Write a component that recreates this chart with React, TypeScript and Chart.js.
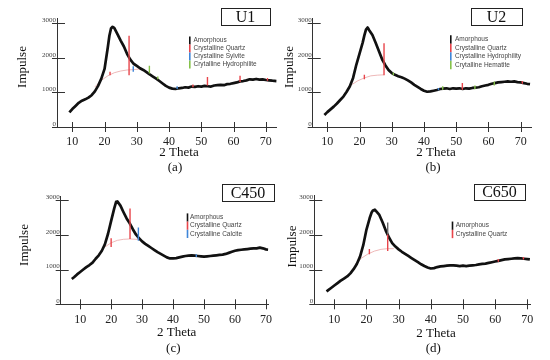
import React, { useEffect, useRef } from 'react';
import { Chart, registerables } from 'chart.js';

Chart.register(...registerables);

// ---------- shared axis ticks ----------
const xTicks = [10, 20, 30, 40, 50, 60, 70];
const yTicks = [0, 1000, 2000, 3000];

// ---------- U1 ----------
const u1Theta = [9.1, 10, 11, 12, 13, 14, 15, 16, 17, 18, 19, 20, 21, 21.5, 22, 22.5, 23, 24, 25, 26, 27, 28, 29, 30, 31, 32, 33, 34, 35, 36, 37, 38, 39, 40, 41, 42, 43, 44, 45, 46, 47, 48, 49, 50, 51, 52, 53, 54, 55, 56, 57, 58, 59, 60, 61, 62, 63, 64, 65, 66, 67, 68, 69, 70, 71, 72, 73.3];
const u1Impulse = [420, 520, 610, 700, 760, 800, 850, 920, 1030, 1190, 1400, 1680, 2300, 2640, 2850, 2900, 2870, 2690, 2500, 2330, 2110, 1950, 1830, 1770, 1700, 1650, 1590, 1520, 1460, 1400, 1330, 1260, 1190, 1140, 1110, 1100, 1120, 1130, 1150, 1140, 1170, 1160, 1180, 1170, 1190, 1180, 1170, 1200, 1210, 1220, 1210, 1240, 1250, 1270, 1290, 1320, 1330, 1350, 1380, 1370, 1390, 1370, 1380, 1360, 1350, 1340, 1330];
const u1ArcTheta = [17, 19, 21, 23, 25, 27, 29, 31];
const u1ArcImpulse = [1160, 1350, 1480, 1570, 1620, 1650, 1660, 1680];
const u1QuartzTheta = [21.7, 27.6, 47.4, 51.9, 62.0, 70.5];
const u1QuartzLow = [1500, 1500, 1150, 1200, 1300, 1340];
const u1QuartzHigh = [1600, 2640, 1230, 1450, 1480, 1420];
const u1SylviteTheta = [28.9, 42.5];
const u1SylviteLow = [1600, 1100];
const u1SylviteHigh = [1760, 1180];
const u1HydroTheta = [33.9, 36.5];
const u1HydroLow = [1550, 1380];
const u1HydroHigh = [1770, 1460];
const u1Phases = ['Amorphous', 'Crystalline Quartz', 'Crystalline Sylvite', 'Crytalline Hydrophilite'];

// ---------- U2 ----------
const u2Theta = [9.1, 10, 11, 12, 13, 14, 15, 16, 17, 18, 19, 20, 21, 21.5, 22, 22.5, 23, 24, 25, 26, 27, 28, 29, 30, 31, 32, 33, 34, 35, 36, 37, 38, 39, 40, 41, 42, 43, 44, 45, 46, 47, 48, 49, 50, 51, 52, 53, 54, 55, 56, 57, 58, 59, 60, 61, 62, 63, 64, 65, 66, 67, 68, 69, 70, 71, 72, 72.9];
const u2Impulse = [350, 430, 510, 590, 680, 780, 880, 1020, 1180, 1420, 1800, 2120, 2450, 2650, 2820, 2880, 2800, 2660, 2440, 2200, 1960, 1790, 1650, 1560, 1510, 1470, 1440, 1400, 1350, 1290, 1220, 1160, 1100, 1050, 1020, 1030, 1050, 1070, 1100, 1110, 1120, 1100, 1120, 1110, 1120, 1100, 1120, 1110, 1130, 1140, 1150, 1180, 1200, 1220, 1250, 1270, 1290, 1300, 1310, 1320, 1310, 1320, 1300, 1290, 1270, 1250, 1240];
const u2ArcTheta = [17.5, 19.5, 21.5, 23.5, 25.5, 27.5];
const u2ArcImpulse = [1220, 1340, 1420, 1480, 1500, 1510];
const u2QuartzTheta = [21.5, 27.6, 51.9, 70.5];
const u2QuartzLow = [1380, 1500, 1080, 1250];
const u2QuartzHigh = [1510, 2420, 1270, 1330];
const u2HydroTheta = [44.5];
const u2HydroLow = [1060];
const u2HydroHigh = [1130];
const u2HematiteTheta = [30.5, 45.8, 55.8, 61.8];
const u2HematiteLow = [1500, 1080, 1090, 1200];
const u2HematiteHigh = [1580, 1180, 1200, 1320];
const u2Phases = ['Amorphous', 'Crystalline Quartz', 'Crystalline Hydrophility', 'Crytalline Hematite'];

// ---------- C450 ----------
const c450Theta = [7.3, 8, 9, 10, 11, 12, 13, 14, 15, 16, 17, 18, 19, 20, 21, 21.6, 22, 23, 24, 25, 26, 27, 28, 29, 30, 31, 32, 33, 34, 35, 36, 37, 38, 39, 40, 41, 42, 43, 44, 45, 46, 47, 48, 49, 50, 51, 52, 53, 54, 55, 56, 57, 58, 59, 60, 61, 62, 63, 64, 65, 66, 67, 68, 69, 70, 70.7];
const c450Impulse = [730, 780, 860, 930, 1000, 1070, 1130, 1200, 1310, 1410, 1540, 1730, 2030, 2400, 2760, 2950, 2960, 2840, 2650, 2470, 2330, 2160, 2010, 1900, 1810, 1740, 1680, 1620, 1560, 1500, 1450, 1400, 1350, 1320, 1320, 1330, 1350, 1370, 1390, 1400, 1410, 1400, 1390, 1380, 1370, 1380, 1390, 1400, 1410, 1420, 1430, 1450, 1480, 1510, 1540, 1560, 1570, 1580, 1590, 1600, 1610, 1610, 1630, 1610, 1580, 1570];
const c450ArcTheta = [18, 20, 22, 24, 26, 28, 29.5];
const c450ArcImpulse = [1650, 1770, 1840, 1870, 1880, 1870, 1860];
const c450QuartzTheta = [20.0, 26.1];
const c450QuartzLow = [1650, 1880];
const c450QuartzHigh = [1900, 2760];
const c450CalciteTheta = [28.8, 47.5];
const c450CalciteLow = [1830, 1360];
const c450CalciteHigh = [2210, 1440];
const c450Phases = ['Amorphous', 'Crystalline Quartz', 'Crystalline Calcite'];

// ---------- C650 ----------
const c650Theta = [7.6, 8, 9, 10, 11, 12, 13, 14, 15, 16, 17, 18, 19, 20, 21, 21.6, 22, 22.6, 23, 24, 25, 26, 27, 28, 29, 30, 31, 32, 33, 34, 35, 36, 37, 38, 39, 40, 41, 42, 43, 44, 45, 46, 47, 48, 49, 50, 51, 52, 53, 54, 55, 56, 57, 58, 59, 60, 61, 62, 63, 64, 65, 66, 67, 68, 69, 70, 70.8];
const c650Impulse = [370, 400, 470, 540, 610, 680, 740, 800, 890, 1010, 1160, 1370, 1700, 2150, 2480, 2640, 2700, 2720, 2680, 2570, 2360, 2120, 1920, 1760, 1660, 1580, 1510, 1450, 1390, 1330, 1270, 1210, 1150, 1100, 1060, 1030, 1040, 1070, 1090, 1100, 1110, 1120, 1120, 1110, 1100, 1110, 1100, 1110, 1120, 1130, 1150, 1160, 1170, 1190, 1210, 1230, 1250, 1270, 1290, 1300, 1310, 1320, 1330, 1320, 1310, 1300, 1290];
const c650ArcTheta = [16.5, 18.5, 20.5, 22.5, 24.5, 26.5, 28.5];
const c650ArcImpulse = [1150, 1330, 1450, 1530, 1580, 1600, 1600];
const c650QuartzTheta = [20.9, 26.6, 61.0, 68.8];
const c650QuartzLow = [1440, 1530, 1220, 1290];
const c650QuartzHigh = [1590, 2010, 1300, 1360];
const c650AmorphTheta = [26.6];
const c650AmorphLow = [2010];
const c650AmorphHigh = [2350];
const c650Phases = ['Amorphous', 'Crystalline Quartz'];

// ---------- styling ----------
const BLACK = '#111111';
const RED = '#e8454b';
const BLUE = '#3f86d8';
const GREEN = '#86c24a';
const GRAY = '#666666';
const ARC = 'rgba(232,160,160,0.75)';
const SERIF = "'Liberation Serif', 'Times New Roman', serif";
const SANS = "'Liberation Sans', Arial, sans-serif";

function series(theta: number[], impulse: number[]) {
  return theta.map((t, i) => ({ x: t, y: impulse[i] }));
}
function sticks(theta: number[], low: number[], high: number[]) {
  const pts: any[] = [];
  theta.forEach((t, i) => {
    pts.push({ x: t, y: low[i] }, { x: t, y: high[i] }, { x: t, y: null });
  });
  return pts;
}

const decorPlugin = {
  id: 'decor',
  afterDraw(chart: any, _args: any, o: any) {
    const ctx = chart.ctx;
    const xs = chart.scales.x;
    const ys = chart.scales.y;
    ctx.save();
    ctx.strokeStyle = '#333';
    ctx.lineWidth = 1;
    ctx.beginPath();
    for (const v of xTicks) {
      const px = Math.round(xs.getPixelForValue(v)) + 0.5;
      ctx.moveTo(px, ys.bottom - 5);
      ctx.lineTo(px, ys.bottom + 5);
    }
    for (const v of yTicks) {
      const py = Math.round(ys.getPixelForValue(v)) + 0.5;
      ctx.moveTo(xs.left - 5, py);
      ctx.lineTo(xs.left + 8, py);
    }
    ctx.stroke();

    // sample label box
    const b = o.box;
    ctx.strokeStyle = '#222';
    ctx.strokeRect(Math.round(b.x) + 0.5, Math.round(b.y) + 0.5, b.w, b.h);
    ctx.fillStyle = '#111';
    ctx.font = `16px ${SERIF}`;
    ctx.textAlign = 'center';
    ctx.textBaseline = 'middle';
    ctx.fillText(b.text, b.x + b.w / 2, b.y + b.h / 2 + 1);

    // phase legend
    const l = o.legend;
    ctx.font = `6.5px ${SANS}`;
    ctx.textAlign = 'left';
    ctx.textBaseline = 'middle';
    l.names.forEach((name: string, i: number) => {
      const cy = l.y0 + i * l.dy;
      ctx.fillStyle = l.colors[i];
      ctx.fillRect(l.barX, cy - l.dy / 2, 1.6, l.dy);
      ctx.fillStyle = '#444';
      ctx.fillText(name, l.textX, cy);
    });

    // axis titles and caption
    ctx.fillStyle = '#111';
    ctx.font = `13px ${SERIF}`;
    ctx.textAlign = 'center';
    ctx.fillText('2 Theta', o.theta.x, o.theta.y);
    ctx.fillText(o.caption.text, o.caption.x, o.caption.y);
    ctx.save();
    ctx.translate(o.impulse.x, o.impulse.y);
    ctx.rotate(-Math.PI / 2);
    ctx.fillText('Impulse', 0, 0);
    ctx.restore();
    ctx.restore();
  },
};

function buildConfig(p: any) {
  const datasets: any[] = [
    { label: 'baseline', data: series(p.arcTheta, p.arcImpulse), borderColor: ARC, borderWidth: 1, order: 3 },
    { label: 'Amorphous', data: series(p.theta, p.impulse), borderColor: BLACK, borderWidth: 2.7, order: 2 },
    ...p.sticks.map((s: any) => ({ label: s.label, data: sticks(s.theta, s.low, s.high), borderColor: s.color, borderWidth: 1.4, order: 1 })),
  ];
  datasets.forEach((d) => {
    d.type = 'line';
    d.pointRadius = 0;
    d.tension = 0;
    d.spanGaps = false;
    d.fill = false;
    d.borderJoinStyle = 'round';
  });
  return {
    type: 'line',
    data: { datasets },
    options: {
      responsive: false,
      animation: false,
      events: [],
      layout: { padding: p.pad },
      plugins: {
        legend: { display: false },
        tooltip: { enabled: false },
        title: { display: false },
        decor: p.decor,
      },
      scales: {
        x: {
          type: 'linear',
          min: p.xMin,
          max: p.xMax,
          offset: false,
          grid: { display: false, drawTicks: false },
          border: { display: true, color: '#333', width: 1 },
          afterBuildTicks: (s: any) => { s.ticks = xTicks.map((v) => ({ value: v })); },
          afterFit: (s: any) => { s.height = 20; },
          ticks: { autoSkip: false, maxRotation: 0, padding: 8, color: '#222', font: { family: SERIF, size: 12 }, callback: (v: any) => String(v) },
        },
        y: {
          type: 'linear',
          min: 0,
          max: p.yMax,
          grid: { display: false, drawTicks: false },
          border: { display: true, color: '#333', width: 1 },
          afterBuildTicks: (s: any) => { s.ticks = yTicks.map((v) => ({ value: v })); },
          afterFit: (s: any) => { s.width = p.yAxisW; },
          ticks: { padding: 1, labelOffset: -3, color: '#444', font: { family: SERIF, size: 7 }, callback: (v: any) => String(v) },
        },
      },
    },
    plugins: [decorPlugin],
  };
}

const panels: any[] = [
  {
    key: 'a', left: 0, top: 0, w: 280, h: 180,
    pad: { left: 0, right: 3, top: 18, bottom: 33 }, yAxisW: 57, xMin: 5.26, xMax: 73.4, yMax: 3154,
    theta: u1Theta, impulse: u1Impulse, arcTheta: u1ArcTheta, arcImpulse: u1ArcImpulse,
    sticks: [
      { label: 'Quartz', theta: u1QuartzTheta, low: u1QuartzLow, high: u1QuartzHigh, color: RED },
      { label: 'Sylvite', theta: u1SylviteTheta, low: u1SylviteLow, high: u1SylviteHigh, color: BLUE },
      { label: 'Hydrophilite', theta: u1HydroTheta, low: u1HydroLow, high: u1HydroHigh, color: GREEN },
    ],
    decor: {
      box: { x: 221, y: 8, w: 49, h: 17, text: 'U1' },
      legend: { barX: 189, textX: 193.5, y0: 40.5, dy: 8, names: u1Phases, colors: [BLACK, RED, BLUE, GREEN] },
      impulse: { x: 23, y: 67 }, theta: { x: 179, y: 153 }, caption: { x: 175, y: 168, text: '(a)' },
    },
  },
  {
    key: 'b', left: 280, top: 0, w: 270, h: 180,
    pad: { left: 0, right: 19, top: 18, bottom: 33 }, yAxisW: 32.7, xMin: 5.47, xMax: 73.2, yMax: 3154,
    theta: u2Theta, impulse: u2Impulse, arcTheta: u2ArcTheta, arcImpulse: u2ArcImpulse,
    sticks: [
      { label: 'Quartz', theta: u2QuartzTheta, low: u2QuartzLow, high: u2QuartzHigh, color: RED },
      { label: 'Hydrophility', theta: u2HydroTheta, low: u2HydroLow, high: u2HydroHigh, color: BLUE },
      { label: 'Hematite', theta: u2HematiteTheta, low: u2HematiteLow, high: u2HematiteHigh, color: GREEN },
    ],
    decor: {
      box: { x: 191, y: 8, w: 51, h: 17, text: 'U2' },
      legend: { barX: 170, textX: 175, y0: 39.5, dy: 8.5, names: u2Phases, colors: [BLACK, RED, BLUE, GREEN] },
      impulse: { x: 10, y: 67 }, theta: { x: 156, y: 153 }, caption: { x: 153, y: 168, text: '(b)' },
    },
  },
  {
    key: 'c', left: 0, top: 180, w: 280, h: 180,
    pad: { left: 0, right: 3, top: 16.7, bottom: 35.7 }, yAxisW: 60.7, xMin: 3.71, xMax: 70.84, yMax: 3096,
    theta: c450Theta, impulse: c450Impulse, arcTheta: c450ArcTheta, arcImpulse: c450ArcImpulse,
    sticks: [
      { label: 'Quartz', theta: c450QuartzTheta, low: c450QuartzLow, high: c450QuartzHigh, color: RED },
      { label: 'Calcite', theta: c450CalciteTheta, low: c450CalciteLow, high: c450CalciteHigh, color: BLUE },
    ],
    decor: {
      box: { x: 222, y: 4, w: 52, h: 17, text: 'C450' },
      legend: { barX: 186.7, textX: 190, y0: 37.5, dy: 8.2, names: c450Phases, colors: [BLACK, RED, BLUE] },
      impulse: { x: 25, y: 65 }, theta: { x: 176.7, y: 152.7 }, caption: { x: 173.3, y: 168.3, text: '(c)' },
    },
  },
  {
    key: 'd', left: 280, top: 180, w: 270, h: 180,
    pad: { left: 0, right: 20, top: 15, bottom: 35.7 }, yAxisW: 34.3, xMin: 3.78, xMax: 70.84, yMax: 3143,
    theta: c650Theta, impulse: c650Impulse, arcTheta: c650ArcTheta, arcImpulse: c650ArcImpulse,
    sticks: [
      { label: 'Quartz', theta: c650QuartzTheta, low: c650QuartzLow, high: c650QuartzHigh, color: RED },
      { label: 'Amorphous', theta: c650AmorphTheta, low: c650AmorphLow, high: c650AmorphHigh, color: GRAY },
    ],
    decor: {
      box: { x: 194, y: 4, w: 51, h: 16, text: 'C650' },
      legend: { barX: 171.7, textX: 175.7, y0: 45.7, dy: 8.3, names: c650Phases, colors: [BLACK, RED] },
      impulse: { x: 13, y: 66.5 }, theta: { x: 156, y: 153.3 }, caption: { x: 153.3, y: 168.3, text: '(d)' },
    },
  },
];

function Panel({ p }: { p: any }) {
  const ref = useRef<HTMLCanvasElement>(null);
  useEffect(() => {
    const chart = new Chart(ref.current as HTMLCanvasElement, buildConfig(p) as any);
    return () => chart.destroy();
  }, [p]);
  return (
    <div style={{ position: 'absolute', left: p.left, top: p.top, width: p.w, height: p.h }}>
      <canvas ref={ref} width={p.w} height={p.h} style={{ display: 'block', width: p.w, height: p.h }} />
    </div>
  );
}

export default function App() {
  return (
    <div style={{ position: 'fixed', left: 0, top: 0, width: 550, height: 360, background: '#fff', overflow: 'hidden' }}>
      {panels.map((p) => (
        <Panel key={p.key} p={p} />
      ))}
    </div>
  );
}
